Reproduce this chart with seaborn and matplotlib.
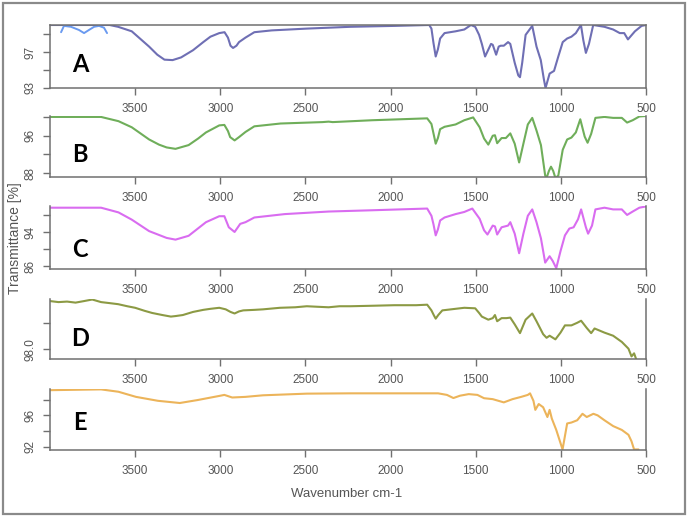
import pandas as pd
import matplotlib.pyplot as plt
import seaborn as sns
from matplotlib.patches import Rectangle

# Spectrum A
wn_a = [4000, 3650, 3600, 3520, 3418, 3370, 3328, 3280, 3230, 3160, 3100, 3058, 3006, 2975,
        2955, 2940, 2925, 2905, 2890, 2852, 2800, 2698, 2492, 2235, 1978, 1773, 1760, 1748,
        1735, 1722, 1709, 1683, 1618, 1567, 1528, 1503, 1480, 1464, 1445, 1425, 1410, 1400,
        1380, 1365, 1353, 1335, 1310, 1297, 1271, 1250, 1240, 1227, 1207, 1168, 1143, 1118,
        1100, 1090, 1075, 1066, 1040, 1015, 989, 963, 938, 912, 882, 868, 853, 835, 810,
        744, 693, 654, 628, 606, 565, 526, 500]
t_a = [100, 100, 99.8, 99.3, 97.6, 96.7, 96.15, 96.1, 96.4, 97.2, 98.1, 98.7, 99.1, 99.2,
       98.6, 97.7, 97.45, 97.7, 98.1, 98.6, 99.2, 99.4, 99.6, 99.8, 99.9, 100, 99.6, 98.0,
       96.5, 97.3, 98.5, 99.1, 99.3, 99.5, 100, 99.8, 98.9, 97.9, 96.5, 97.3, 97.9, 97.8,
       96.7, 97.6, 97.7, 97.7, 98.1, 97.9, 95.8, 94.4, 94.2, 95.8, 98.9, 99.9, 97.6, 96.1,
       94.0, 93.0, 94.0, 94.6, 94.9, 96.5, 98.1, 98.5, 98.7, 99.1, 100, 98.3, 96.9, 97.9, 100,
       99.8, 99.5, 99.1, 99.1, 98.4, 99.3, 99.9, 100]
# light blue stray trace at the top left of A
wn_a2 = [3935, 3918, 3877, 3830, 3800, 3771, 3741, 3712, 3683, 3665]
t_a2 = [99.2, 99.9, 99.8, 99.45, 99.1, 99.45, 99.8, 99.9, 99.7, 99.1]

# Spectrum B
wn_b = [4000, 3700, 3598, 3520, 3418, 3360, 3315, 3263, 3186, 3130, 3084, 3006, 2976, 2955,
        2942, 2916, 2890, 2852, 2800, 2646, 2400, 2364, 2340, 2107, 1785, 1760, 1748, 1735,
        1722, 1709, 1683, 1618, 1567, 1515, 1477, 1451, 1426, 1400, 1387, 1374, 1348, 1323,
        1297, 1271, 1245, 1220, 1194, 1168, 1143, 1117, 1092, 1084, 1070, 1058, 1045, 1032,
        1015, 989, 963, 938, 912, 886, 860, 843, 822, 797, 744, 693, 642, 611, 578, 539, 500]
t_b = [100, 100, 99.1, 97.8, 95.2, 94.1, 93.5, 93.2, 94.0, 95.4, 96.7, 98.2, 98.3, 97.0,
       95.7, 95.0, 95.7, 96.8, 98.0, 98.6, 98.9, 99.0, 98.9, 99.3, 99.7, 98.5, 96.5, 94.3,
       95.5, 97.4, 97.9, 98.4, 99.3, 99.9, 97.8, 95.4, 94.1, 96.0, 96.1, 94.4, 95.5, 95.5,
       96.5, 94.3, 90.3, 94.3, 98.4, 99.8, 97.1, 94.0, 87.5, 87.0, 88.5, 89.4, 88.5, 87.0,
       87.5, 93.0, 95.2, 95.6, 96.7, 99.5, 95.8, 94.5, 96.4, 99.8, 100, 99.8, 99.8, 98.8,
       99.3, 100.1, 100.2]

# Spectrum C
wn_c = [4000, 3700, 3598, 3520, 3418, 3315, 3263, 3186, 3084, 3006, 2976, 2950, 2916, 2883,
        2852, 2800, 2621, 2364, 2107, 1785, 1760, 1748, 1735, 1722, 1709, 1683, 1618, 1567,
        1520, 1477, 1451, 1431, 1400, 1387, 1374, 1348, 1310, 1297, 1271, 1245, 1220, 1194,
        1168, 1143, 1117, 1092, 1066, 1048, 1027, 1002, 976, 950, 925, 899, 881, 853, 840,
        817, 797, 744, 693, 642, 611, 578, 539, 500]
t_c = [99.7, 99.7, 98.6, 96.9, 94.2, 92.6, 92.2, 93.1, 96.3, 97.7, 97.7, 95.1, 94.0, 95.9,
       96.3, 97.4, 98.2, 98.8, 99.1, 99.5, 97.8, 95.8, 93.2, 94.6, 96.7, 97.4, 98.2, 98.7,
       99.5, 97.1, 94.4, 93.4, 95.5, 95.3, 93.4, 95.1, 95.5, 96.3, 93.6, 89.0, 93.6, 97.8,
       99.3, 96.3, 92.5, 86.8, 88.3, 87.2, 85.5, 89.5, 93.2, 94.8, 95.1, 97.0, 99.3, 95.1,
       93.6, 95.5, 99.3, 99.7, 99.3, 99.3, 98.0, 98.8, 99.7, 100.0]

# Spectrum D
wn_d = [4000, 3950, 3900, 3850, 3800, 3752, 3700, 3649, 3600, 3546, 3500, 3443, 3400, 3340,
        3290, 3263, 3220, 3160, 3100, 3058, 3006, 2968, 2940, 2916, 2890, 2865, 2800, 2749,
        2650, 2560, 2492, 2430, 2364, 2300, 2235, 2100, 1978, 1850, 1785, 1760, 1745, 1735,
        1720, 1696, 1645, 1567, 1503, 1480, 1464, 1426, 1400, 1387, 1374, 1348, 1320, 1297,
        1271, 1240, 1207, 1168, 1143, 1104, 1084, 1066, 1032, 1002, 976, 938, 904, 881, 848,
        822, 802, 744, 693, 642, 603, 585, 570, 557]
t_d = [98.93, 98.91, 98.92, 98.90, 98.93, 98.96, 98.91, 98.89, 98.87, 98.83, 98.80, 98.74,
       98.70, 98.66, 98.63, 98.64, 98.66, 98.72, 98.76, 98.78, 98.80, 98.77, 98.72, 98.69,
       98.73, 98.75, 98.76, 98.77, 98.80, 98.81, 98.83, 98.82, 98.81, 98.83, 98.83, 98.84,
       98.85, 98.85, 98.86, 98.75, 98.65, 98.59, 98.66, 98.75, 98.77, 98.80, 98.79, 98.70,
       98.63, 98.57, 98.60, 98.66, 98.54, 98.60, 98.60, 98.61, 98.48, 98.31, 98.57, 98.69,
       98.54, 98.29, 98.22, 98.26, 98.19, 98.32, 98.46, 98.46, 98.51, 98.55, 98.41, 98.31,
       98.40, 98.32, 98.26, 98.14, 98.01, 97.86, 97.92, 97.80]

# Spectrum E
wn_e = [4000, 3850, 3700, 3598, 3495, 3366, 3238, 3135, 3006, 2976, 2930, 2852, 2749, 2492,
        2235, 1721, 1669, 1631, 1592, 1541, 1490, 1451, 1400, 1335, 1284, 1233, 1194, 1181,
        1161, 1150, 1130, 1104, 1079, 1066, 1053, 1027, 990, 963, 938, 904, 873, 848, 809,
        784, 744, 693, 642, 603, 585, 570, 544]
t_e = [99.2, 99.25, 99.3, 99.0, 98.35, 97.85, 97.57, 97.94, 98.47, 98.6, 98.27, 98.35,
       98.55, 98.76, 98.8, 98.8, 98.6, 98.2, 98.5, 98.7, 98.6, 98.18, 98.06, 97.65, 98.06,
       98.35, 98.6, 98.8, 97.85, 96.7, 97.44, 97.03, 95.79, 96.7, 95.59, 94.15, 91.67, 94.97,
       95.09, 95.38, 96.2, 95.79, 96.2, 96.0, 95.38, 94.64, 94.15, 93.53, 92.7, 91.67, 91.67]

letters = ["A", "B", "C", "D", "E"]
colors = ["#6f6fb4", "#6fae5a", "#d96cf0", "#8c9a44", "#ecb45a"]
ylims = [(93, 100), (87.2, 100.2), (85.3, 100.1), (97.81, 98.97), (91.6, 99.35)]
yticks = [[93, 95, 97, 99], [88, 92, 96, 100], [86, 90, 94, 98], [98.0, 98.5], [92, 94, 96, 98]]
ytlabels = [["93", "", "97", ""], ["88", "", "96", ""], ["86", "", "94", ""],
            ["98.0", ""], ["92", "", "96", ""]]
xticks = [3500, 3000, 2500, 2000, 1500, 1000, 500]

series = [(wn_a, t_a), (wn_b, t_b), (wn_c, t_c), (wn_d, t_d), (wn_e, t_e)]
# panel boxes in pixels: top, bottom
boxes = [(25, 88), (116, 177), (206, 269), (299, 359), (389, 450)]
letter_y = [65, 154, 250, 338, 423]

sns.set_style("ticks")
plt.rcParams['font.family'] = ['Liberation Sans', 'DejaVu Sans']

W, H = 688, 518
fig = plt.figure(figsize=(W / 100, H / 100), dpi=100)
left, right = 50, 646

for i in range(5):
    top, bot = boxes[i]
    ax = fig.add_axes([left / W, 1 - bot / H, (right - left) / W, (bot - top) / H])
    df = pd.DataFrame({"wn": series[i][0], "t": series[i][1]})
    sns.lineplot(data=df, x="wn", y="t", ax=ax, color=colors[i], lw=1.5,
                 estimator=None, sort=False)
    if i == 0:
        df2 = pd.DataFrame({"wn": wn_a2, "t": t_a2})
        sns.lineplot(data=df2, x="wn", y="t", ax=ax, color="#6a9af0", lw=1.4,
                     estimator=None, sort=False)
    ax.set_xlim(4000, 500)
    ax.set_ylim(*ylims[i])
    ax.set_xticks(xticks)
    ax.set_yticks(yticks[i])
    ax.set_yticklabels(ytlabels[i], rotation=90, va="center")
    ax.set_xlabel("")
    ax.set_ylabel("")
    ax.tick_params(axis="both", colors="#707070", labelcolor="#555555", labelsize=8.5,
                   length=5, width=1)
    ax.tick_params(axis="x", pad=6)
    ax.tick_params(axis="y", pad=5)
    for s in ["left", "bottom", "right", "top"]:
        ax.spines[s].set_color("#707070")
        ax.spines[s].set_linewidth(1.1)
    ax.spines["top"].set_visible(i == 0)
    ax.patch.set_alpha(0)
    fig.text(80 / W, 1 - letter_y[i] / H, letters[i], ha="center", va="center",
             fontsize=17, fontweight="bold", family=["Lato", "DejaVu Sans"], color="black")

fig.text(15 / W, 1 - 238 / H, "Transmittance [%]", rotation=90, ha="center", va="center",
         fontsize=10, color="#555555")
fig.text(347 / W, 1 - 494 / H, "Wavenumber cm-1", ha="center", va="center",
         fontsize=9.5, color="#555555")

fig.patches.append(Rectangle((3 / W, 4 / H), 682 / W, 511 / H, transform=fig.transFigure,
                             fill=False, ec="#8a8a8a", lw=1.6))

fig.savefig("out.png", dpi=100)
